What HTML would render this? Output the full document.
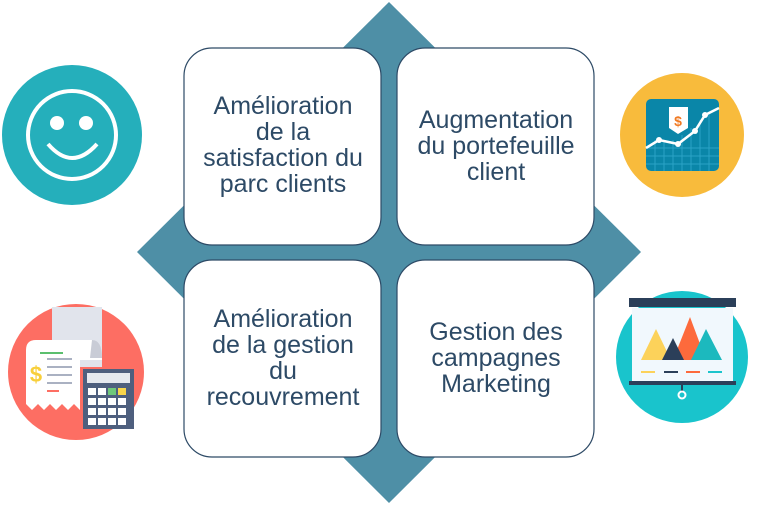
<!DOCTYPE html>
<html><head><meta charset="utf-8"><style>
body{margin:0;background:#fff;}
svg text{font-family:"Liberation Sans",sans-serif;font-size:25px;fill:#2d4a66;text-anchor:middle;}
</style></head><body>
<svg width="778" height="505" viewBox="0 0 778 505">
<polygon points="389,2 641,252 389,503 137,252" fill="#4e8fa6"/>
<g fill="#fff" stroke="#2d4a66" stroke-width="1.2">
<rect x="184" y="48" width="197" height="197" rx="28"/>
<rect x="397" y="48" width="197" height="197" rx="28"/>
<rect x="184" y="260" width="197" height="197" rx="28"/>
<rect x="397" y="260" width="197" height="197" rx="28"/>
</g>
<text x="283" y="114">Amélioration</text>
<text x="283" y="140">de la</text>
<text x="283" y="166">satisfaction du</text>
<text x="283" y="192">parc clients</text>
<text x="496" y="128">Augmentation</text>
<text x="496" y="154">du portefeuille</text>
<text x="496" y="180">client</text>
<text x="283" y="327">Amélioration</text>
<text x="283" y="353">de la gestion</text>
<text x="283" y="379">du</text>
<text x="283" y="405">recouvrement</text>
<text x="496" y="340">Gestion des</text>
<text x="496" y="366">campagnes</text>
<text x="496" y="392">Marketing</text>
<!-- smiley -->
<circle cx="72" cy="135" r="70" fill="#25afbb"/>
<circle cx="72" cy="135" r="44" fill="none" stroke="#fff" stroke-width="4"/>
<circle cx="57" cy="123" r="7" fill="#fff"/><circle cx="86" cy="123" r="7" fill="#fff"/>
<path d="M48,144 Q72,172 97,144" fill="none" stroke="#fff" stroke-width="4"/>
<!-- yellow chart -->
<circle cx="682" cy="135" r="62" fill="#f8bb3c"/>
<rect x="646" y="99" width="73" height="72" rx="5" fill="#0a86a8"/>
<g stroke="#2aa3c6" stroke-width="1">
<path d="M646,148H719M646,156H719M646,164H719M655,140V171M664,140V171M673,140V171M682,135V171M691,128V171M700,120V171M709,112V171"/>
</g>
<polyline points="646,148 659,140 678,144 695,131 705,115 719,108" fill="none" stroke="#fff" stroke-width="2.5"/>
<circle cx="659" cy="140" r="3" fill="#fff"/><circle cx="678" cy="144" r="3" fill="#fff"/><circle cx="695" cy="131" r="3" fill="#fff"/><circle cx="705" cy="115" r="3" fill="#fff"/>
<path d="M669,107H688V128L678,134L669,128Z" fill="#fff"/>
<text x="678" y="126" style="font-size:14px;fill:#f07a23;font-weight:bold">$</text>
<!-- red receipt -->
<circle cx="76" cy="372" r="68" fill="#fd6e63"/>
<rect x="52" y="307" width="50" height="60" fill="#e1e4ec"/>
<path d="M26,350 Q26,340 36,340 H92 Q102,340 102,360 H80 V410 L74,404 L68,410 L62,404 L56,410 L50,404 L44,410 L38,404 L32,410 L26,404 Z" fill="#fff"/>
<path d="M92,340 Q102,340 102,358 H90Z" fill="#c9ccd6"/>
<path d="M40,353H63" stroke="#5bbf6e" stroke-width="2"/>
<path d="M47,359H72M47,367H72M47,375H72M47,383H72" stroke="#aab1c2" stroke-width="2"/>
<path d="M47,391H59" stroke="#fd6e63" stroke-width="2"/>
<text x="36" y="382" style="font-size:22px;fill:#f8cf3a;font-weight:bold">$</text>
<rect x="83" y="369" width="51" height="60" fill="#4e5f7e"/>
<rect x="87" y="373" width="43" height="10" fill="#e6e9ef"/>
<g fill="#fff">
<rect x="88" y="388" width="8" height="7"/><rect x="98" y="388" width="8" height="7"/><rect x="108" y="388" width="8" height="7" fill="#6fc87a"/><rect x="118" y="388" width="8" height="7" fill="#f8d54a"/>
<rect x="88" y="398" width="8" height="7"/><rect x="98" y="398" width="8" height="7"/><rect x="108" y="398" width="8" height="7"/><rect x="118" y="398" width="8" height="7"/>
<rect x="88" y="408" width="8" height="7"/><rect x="98" y="408" width="8" height="7"/><rect x="108" y="408" width="8" height="7"/><rect x="118" y="408" width="8" height="7"/>
<rect x="88" y="418" width="8" height="7"/><rect x="98" y="418" width="8" height="7"/><rect x="108" y="418" width="8" height="7"/><rect x="118" y="418" width="8" height="7"/>
</g>
<!-- teal presentation -->
<circle cx="682" cy="357" r="66" fill="#19c4cc"/>
<rect x="632" y="308" width="101" height="74" fill="#f1f8fd"/>
<rect x="629" y="298" width="107" height="9" fill="#2b3f59"/>
<rect x="629" y="381" width="107" height="4" fill="#2b3f59"/>
<path d="M682,385V392" stroke="#2b3f59" stroke-width="2"/>
<circle cx="682" cy="395" r="3.5" fill="none" stroke="#fff" stroke-width="2"/>
<polygon points="641,360 656,329 671,360" fill="#fcd25a"/>
<polygon points="706,360 690,317 673,360" fill="#fd6a3c"/>
<polygon points="662,360 673,338 684,360" fill="#2b3f59"/>
<polygon points="691,360 706,329 722,360" fill="#1cb9be"/>
<path d="M641,372H655" stroke-width="2" stroke="#fcd25a"/>
<path d="M664,372H678" stroke="#2b3f59" stroke-width="2"/><path d="M686,372H700" stroke="#fd6a3c" stroke-width="2"/><path d="M708,372H722" stroke="#1cc4cc" stroke-width="2"/>
</svg>
</body></html>
